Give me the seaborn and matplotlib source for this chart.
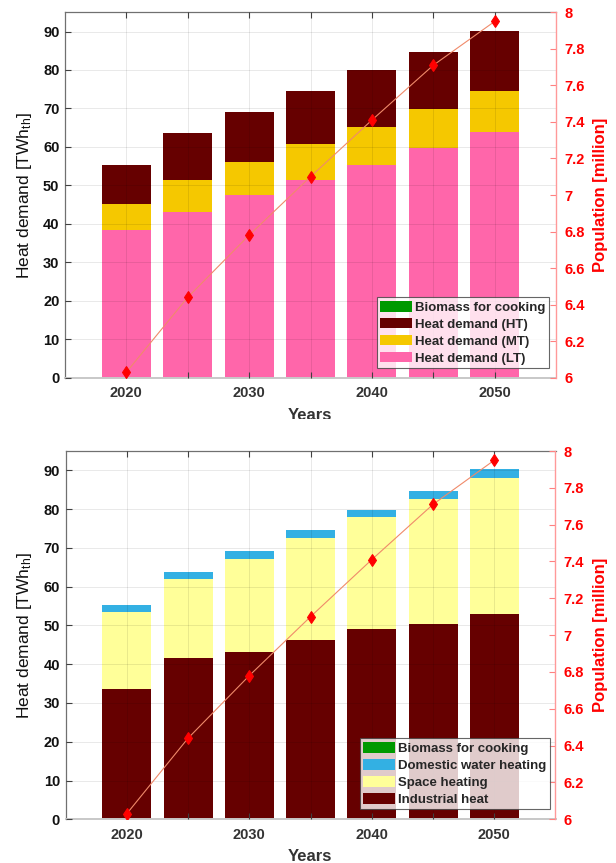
import numpy as np
import pandas as pd
import matplotlib
matplotlib.use("Agg")
import matplotlib.pyplot as plt
import seaborn as sns
from matplotlib.patches import Patch
from matplotlib.ticker import FormatStrFormatter
from matplotlib.transforms import Bbox, TransformedBbox

# ---------------------------------------------------------------- data
years = [2020, 2025, 2030, 2035, 2040, 2045, 2050]
year_tick_labels = ["2020", "", "2030", "", "2040", "", "2050"]
population = [6.03, 6.44, 6.78, 7.10, 7.41, 7.71, 7.95]   # million

# heat demand by temperature level [TWh_th]
biomass_cooking = [0, 0, 0, 0, 0, 0, 0]
heat_ht = [10.1, 12.4, 13.0, 13.8, 14.7, 14.9, 15.7]
heat_mt = [6.7, 8.3, 8.6, 9.2, 9.9, 10.1, 10.6]
heat_lt = [38.5, 43.0, 47.6, 51.5, 55.4, 59.7, 63.9]

# heat demand by end use [TWh_th]
domestic_water = [1.8, 1.8, 2.1, 2.2, 2.0, 2.2, 2.2]
space_heating = [20.0, 20.4, 24.0, 26.3, 28.7, 32.1, 35.2]
industrial_heat = [33.5, 41.6, 43.2, 46.2, 49.2, 50.5, 52.9]

top_labels = ["Biomass for cooking", "Heat demand (HT)",
              "Heat demand (MT)", "Heat demand (LT)"]
top_series = [biomass_cooking, heat_ht, heat_mt, heat_lt]
top_colors = ["#009900", "#660000", "#F5C800", "#FF66AA"]

bottom_labels = ["Biomass for cooking", "Domestic water heating",
                 "Space heating", "Industrial heat"]
bottom_series = [biomass_cooking, domestic_water, space_heating, industrial_heat]
bottom_colors = ["#009900", "#33B0E3", "#FFFF99", "#660000"]

# ---------------------------------------------------------------- style
sns.set_theme(style="white")
plt.rcParams["font.family"] = ["Liberation Sans", "DejaVu Sans"]
plt.rcParams["mathtext.fontset"] = "custom"
plt.rcParams["mathtext.rm"] = "Liberation Sans"
plt.rcParams["mathtext.it"] = "Liberation Sans:italic"
plt.rcParams["mathtext.bf"] = "Liberation Sans:bold"

W, H = 616, 863
fig = plt.figure(figsize=(W / 100, H / 100), dpi=100)


def px_axes(left, top, right, bottom):
    return fig.add_axes([left / W, 1 - bottom / H, (right - left) / W, (bottom - top) / H])


def draw_panel(ax, labels, series, colors, legend_anchor):
    df = pd.DataFrame({
        "year": np.tile(years, len(labels)),
        "value": np.concatenate([np.asarray(s, float) for s in series]),
        "series": np.repeat(labels, len(years)),
    })
    sns.histplot(data=df, x="year", weights="value", hue="series",
                 hue_order=labels, palette=dict(zip(labels, colors)),
                 multiple="stack", binwidth=5, binrange=(2017.5, 2052.5),
                 shrink=0.8, alpha=1, linewidth=0, legend=False, ax=ax)
    ax.set_xlim(2015, 2055)
    ax.set_ylim(0, 95)
    ax.set_xticks(years)
    ax.set_xticklabels(year_tick_labels)
    ax.set_yticks(range(0, 91, 10))
    ax.set_xlabel("")
    ax.set_ylabel("")
    ax.grid(True, color="#000000", alpha=0.09, linewidth=0.7)
    ax.set_axisbelow(False)
    ax.tick_params(axis="both", direction="in", length=4, width=0.8,
                   color="#404040", labelsize=10.5)
    ax.tick_params(axis="x", top=True, bottom=True, labeltop=False,
                   pad=6, labelcolor="#333333")
    ax.tick_params(axis="y", left=True, right=False, pad=4, labelcolor="#111111")
    for lab in ax.get_xticklabels() + ax.get_yticklabels():
        lab.set_fontweight("bold")
    ax.spines["right"].set_visible(False)
    for side in ("left", "top"):
        ax.spines[side].set_color("#707070")
        ax.spines[side].set_linewidth(0.9)
    ax.spines["bottom"].set_color("#c8c8c8")
    ax.spines["bottom"].set_linewidth(1.4)

    ax2 = ax.twinx()
    sns.lineplot(x=years, y=population, ax=ax2, color="#F08A6A", linewidth=0.8,
                 marker="d", markersize=6.5, markerfacecolor="#FF0000",
                 markeredgecolor="#FF0000", legend=False)
    ax2.set_ylim(6, 8)
    ax2.set_yticks(np.arange(6, 8.01, 0.2))
    ax2.yaxis.set_major_formatter(FormatStrFormatter("%g"))
    ax2.set_xlabel("")
    ax2.set_ylabel("")
    ax2.grid(False)
    ax2.tick_params(axis="y", direction="in", length=4, width=0.8,
                    color="#FF8080", labelcolor="#FF0000", labelsize=10.5, pad=6)
    for lab in ax2.get_yticklabels():
        lab.set_fontweight("bold")
    for side in ("left", "top", "bottom"):
        ax2.spines[side].set_visible(False)
    ax2.spines["right"].set_color("#FF9999")
    ax2.spines["right"].set_linewidth(1.0)

    handles = [Patch(facecolor=c, edgecolor="none") for c in colors]
    leg = ax2.legend(handles, labels, loc="lower right", bbox_to_anchor=legend_anchor,
                     borderaxespad=0, fancybox=False, frameon=True,
                     prop={"weight": "bold", "size": 9.5},
                     handlelength=2.4, handleheight=0.9, handletextpad=0.25,
                     labelspacing=0.3, borderpad=0.25)
    frame = leg.get_frame()
    frame.set_facecolor((1, 1, 1, 0.72))
    frame.set_edgecolor("#404040")
    frame.set_linewidth(0.8)
    return ax2


ax_top = px_axes(65, 12.3, 556, 377.7)
draw_panel(ax_top, top_labels, top_series, top_colors, (0.986, 0.027))

ax_bot = px_axes(65.5, 451, 555.5, 819.3)
draw_panel(ax_bot, bottom_labels, bottom_series, bottom_colors, (0.988, 0.028))

ylabel = "Heat demand [TWh$_\\mathregular{th}$]"
for cy in (195, 635):
    fig.text(25 / W, 1 - cy / H, ylabel, rotation=90, ha="center", va="center",
             fontsize=12.5, color="#111111")
    fig.text(600 / W, 1 - cy / H, "Population [million]", rotation=90,
             ha="center", va="center", fontsize=12, fontweight="bold", color="#FF0000")

# x labels; the upper one is cut off where the lower panel begins
top_years = fig.text(310 / W, 1 - 419.5 / H, "Years", ha="center", va="baseline",
                     fontsize=12, fontweight="bold", color="#333333")
top_years.set_clip_box(TransformedBbox(Bbox([[0, 1 - 419 / H], [1, 1]]), fig.transFigure))
top_years.set_clip_on(True)
fig.text(310 / W, 1 - 860.5 / H, "Years", ha="center", va="baseline",
         fontsize=12, fontweight="bold", color="#333333")

fig.savefig("out.png", dpi=100)
